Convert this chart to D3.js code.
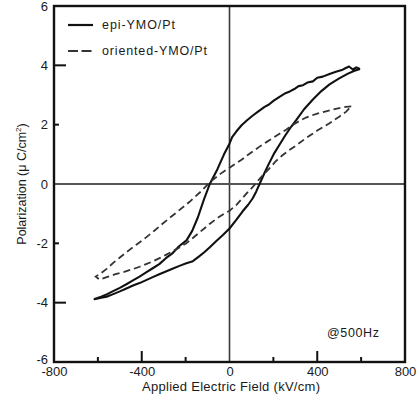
<!DOCTYPE html>
<html>
<head>
<meta charset="utf-8">
<script src="https://cdn.jsdelivr.net/npm/d3@7/dist/d3.min.js"></script>
<style>
  html, body { margin: 0; padding: 0; background: #fff; }
  svg { display: block; font-family: "Liberation Sans", Arial, Helvetica, sans-serif; }
</style>
</head>
<body>
<svg id="chart" width="417" height="400"></svg>
<script>
// P-E hysteresis loops: [field kV/cm, polarization uC/cm2]
const epiUpper = [
  [595, 3.88], [578, 3.93], [562, 3.86], [545, 3.96], [528, 3.9], [512, 3.84],
  [485, 3.78], [456, 3.71], [425, 3.62], [400, 3.58], [380, 3.46], [355, 3.42],
  [335, 3.33], [315, 3.3], [300, 3.22], [275, 3.12], [255, 3.06], [228, 2.94],
  [200, 2.8], [180, 2.68], [160, 2.6], [130, 2.44], [105, 2.3], [80, 2.15],
  [55, 1.98], [30, 1.76], [12, 1.58], [0, 1.36], [-25, 1.0], [-55, 0.5],
  [-90, 0.0], [-118, -0.55], [-144, -1.12], [-170, -1.58], [-196, -1.9],
  [-230, -2.1], [-262, -2.35], [-290, -2.5], [-320, -2.7], [-350, -2.84],
  [-380, -2.98], [-410, -3.12], [-440, -3.25], [-470, -3.38], [-500, -3.5],
  [-533, -3.62], [-560, -3.72], [-585, -3.8], [-615, -3.88]
];
const epiLower = [
  [-615, -3.88], [-590, -3.84], [-560, -3.8], [-533, -3.72], [-500, -3.62],
  [-470, -3.52], [-440, -3.42], [-410, -3.34], [-380, -3.24], [-350, -3.14],
  [-320, -3.04], [-290, -2.95], [-260, -2.86], [-228, -2.76], [-200, -2.68],
  [-167, -2.6], [-140, -2.45], [-115, -2.3], [-91, -2.14], [-60, -1.92],
  [-30, -1.72], [0, -1.5], [30, -1.22], [60, -0.92], [85, -0.7], [106, -0.48],
  [122, -0.25], [137, 0.0], [160, 0.38], [182, 0.72], [205, 1.05], [230, 1.35],
  [251, 1.6], [280, 1.92], [304, 2.15], [340, 2.52], [380, 2.85], [420, 3.14],
  [456, 3.36], [500, 3.56], [540, 3.72], [570, 3.82], [595, 3.88]
];
const orientedUpper = [
  [555, 2.62], [530, 2.6], [500, 2.56], [470, 2.51], [440, 2.45], [400, 2.37],
  [370, 2.3], [349, 2.24], [320, 2.13], [290, 2.0], [258, 1.83], [230, 1.7],
  [200, 1.56], [170, 1.42], [137, 1.26], [110, 1.12], [80, 0.96], [55, 0.82],
  [30, 0.7], [0, 0.55], [-40, 0.35], [-91, 0.05], [-130, -0.25], [-182, -0.6],
  [-240, -0.95], [-304, -1.33], [-340, -1.56], [-380, -1.8], [-420, -2.02],
  [-456, -2.22], [-500, -2.48], [-530, -2.66], [-560, -2.86], [-585, -3.0],
  [-610, -3.12]
];
const orientedLower = [
  [-610, -3.12], [-593, -3.22], [-560, -3.14], [-520, -3.04], [-480, -2.96],
  [-441, -2.87], [-410, -2.79], [-380, -2.7], [-350, -2.61], [-319, -2.5],
  [-290, -2.39], [-260, -2.27], [-230, -2.15], [-197, -2.0], [-170, -1.84],
  [-140, -1.65], [-115, -1.5], [-91, -1.35], [-50, -1.12], [-20, -0.98],
  [0, -0.9], [30, -0.72], [61, -0.46], [85, -0.26], [106, -0.1], [140, 0.2],
  [182, 0.53], [210, 0.76], [240, 0.96], [270, 1.13], [304, 1.3], [349, 1.55],
  [400, 1.8], [456, 2.05], [500, 2.27], [532, 2.44], [555, 2.62]
];

const seriesNames = ["epi-YMO/Pt", "oriented-YMO/Pt"];
const xTickValues = [-800, -400, 0, 400, 800];
const xMajorTicks = [-400, 400];
const xMinorTicks = [-600, -200, 200, 600];
const yTickValues = [-6, -4, -2, 0, 2, 4, 6];
const yMajorTicks = [-4, 4];
const yMinorTicks = [-2, 2];

const svg = d3.select("#chart");
const plotL = 54, plotR = 405, plotT = 6, plotB = 362;
const ink = "#1a1a1a";

const x = d3.scaleLinear().domain([-800, 800]).range([plotL, plotR]);
const y = d3.scaleLinear().domain([-6, 6]).range([plotB, plotT]);

// zero cross-hair lines
svg.append("line")
  .attr("x1", x(0)).attr("x2", x(0)).attr("y1", y(6)).attr("y2", y(-6))
  .attr("stroke", "#3a3a3a").attr("stroke-width", 1.6);
svg.append("line")
  .attr("x1", x(-800)).attr("x2", x(800)).attr("y1", y(0)).attr("y2", y(0))
  .attr("stroke", "#555").attr("stroke-width", 1.8);

// inward tick marks
const tickG = svg.append("g").attr("stroke", "#111").attr("stroke-width", 2);
xMajorTicks.forEach(v => tickG.append("line")
  .attr("x1", x(v)).attr("x2", x(v)).attr("y1", plotB).attr("y2", plotB - 11));
xMinorTicks.forEach(v => tickG.append("line")
  .attr("x1", x(v)).attr("x2", x(v)).attr("y1", plotB).attr("y2", plotB - 5));
yMajorTicks.forEach(v => tickG.append("line")
  .attr("x1", plotL).attr("x2", plotL + 12).attr("y1", y(v)).attr("y2", y(v)));
yMinorTicks.forEach(v => tickG.append("line")
  .attr("x1", plotL).attr("x2", plotL + 5).attr("y1", y(v)).attr("y2", y(v)));

// frame
svg.append("rect")
  .attr("x", plotL).attr("y", plotT).attr("width", plotR - plotL).attr("height", plotB - plotT)
  .attr("fill", "none").attr("stroke", "#111").attr("stroke-width", 2.4);

// tick labels via axis generators (domain and tick lines hidden)
const xAxis = d3.axisBottom(x).tickValues(xTickValues).tickSize(0).tickPadding(5);
const gx = svg.append("g").attr("transform", `translate(0,${plotB})`).call(xAxis);
const yAxis = d3.axisLeft(y).tickValues(yTickValues).tickSize(0).tickPadding(6);
const gy = svg.append("g").attr("transform", `translate(${plotL},0)`).call(yAxis);
[gx, gy].forEach(g => {
  g.select(".domain").remove();
  g.selectAll("text").attr("font-size", 13).attr("fill", ink)
    .attr("font-family", "Liberation Sans, Arial, sans-serif")
    .text(d => String(d));   // plain hyphen minus signs
});
// lift the bottom-most y label a little off the x labels
gy.selectAll(".tick").filter(d => d === -6).select("text").attr("y", -3);

// axis titles
svg.append("text")
  .attr("x", 231).attr("y", 391)
  .attr("text-anchor", "middle").attr("font-size", 13).attr("fill", ink)
  .attr("textLength", 178).attr("lengthAdjust", "spacing")
  .text("Applied Electric Field (kV/cm)");
const yt = svg.append("text")
  .attr("transform", `translate(26,${(plotT + plotB) / 2}) rotate(-90)`)
  .attr("text-anchor", "middle").attr("font-size", 12.5).attr("fill", ink);
yt.append("tspan").text("Polarization (\u03BC C/cm");
yt.append("tspan").attr("font-size", 8).attr("dy", -5).text("2");
yt.append("tspan").attr("dy", 5).text(")");

// loops
const path = d3.line().x(d => x(d[0])).y(d => y(d[1]));
svg.append("path")
  .datum(epiUpper.concat(epiLower))
  .attr("d", path).attr("fill", "none").attr("stroke", "#111")
  .attr("stroke-width", 2.1).attr("stroke-linejoin", "round");
svg.append("path")
  .datum(orientedUpper.concat(orientedLower))
  .attr("d", path).attr("fill", "none").attr("stroke", "#333")
  .attr("stroke-width", 1.8).attr("stroke-dasharray", "7,4");

// legend
const legendWidths = [73, 105];
const legend = svg.append("g");
seriesNames.forEach((name, i) => {
  const ly = 25 + i * 26;
  legend.append("line")
    .attr("x1", 68).attr("x2", 93).attr("y1", ly).attr("y2", ly)
    .attr("stroke", i === 0 ? "#111" : "#333").attr("stroke-width", 2.2)
    .attr("stroke-dasharray", i === 0 ? null : "10,3.5");
  legend.append("text")
    .attr("x", 102).attr("y", ly).attr("dy", "0.35em")
    .attr("font-size", 12.5).attr("fill", ink)
    .attr("textLength", legendWidths[i]).attr("lengthAdjust", "spacing")
    .text(name);
});

// measurement frequency note
svg.append("text")
  .attr("x", 327).attr("y", 333).attr("dy", "0.35em")
  .attr("font-size", 12.5).attr("fill", ink)
  .attr("textLength", 52).attr("lengthAdjust", "spacing")
  .text("@500Hz");
</script>
</body>
</html>
